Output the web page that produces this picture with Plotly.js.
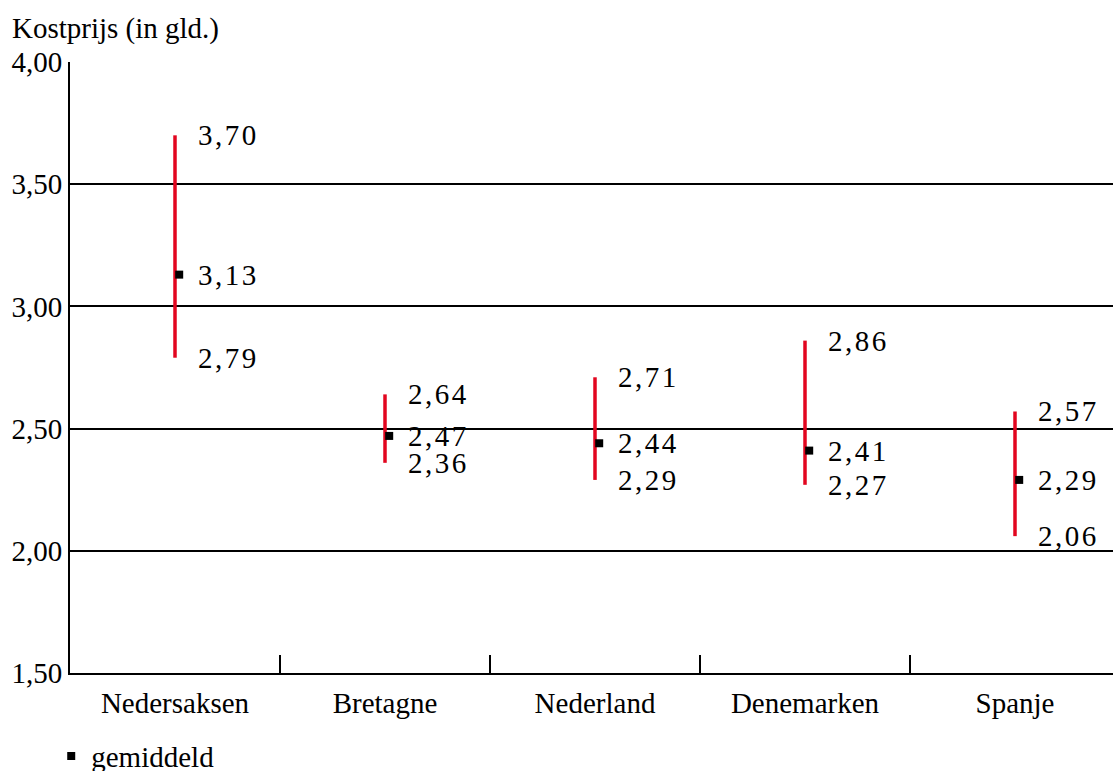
<!DOCTYPE html>
<html>
<head>
<meta charset="utf-8">
<script src="https://cdn.plot.ly/plotly-3.0.1.min.js"></script>
<style>
  html, body { margin: 0; padding: 0; background: #fff; }
  #chart { width: 1113px; height: 771px; }
  .annotation-text { letter-spacing: 2.5px; }
</style>
</head>
<body>
<div id="chart"></div>
<script>
// ---- data ----
const categories = ['Nedersaksen', 'Bretagne', 'Nederland', 'Denemarken', 'Spanje'];
const maxValues  = [3.70, 2.64, 2.71, 2.86, 2.57];
const meanValues = [3.13, 2.47, 2.44, 2.41, 2.29];
const minValues  = [2.79, 2.36, 2.29, 2.27, 2.06];
const yTickValues = [1.5, 2.0, 2.5, 3.0, 3.5, 4.0];
const yTitle = 'Kostprijs (in gld.)';
const meanName = 'gemiddeld';

// ---- build traces ----
const FONT = "'Liberation Serif', 'Times New Roman', serif";
const FS = 29;
const RED = '#e2061f';
const idx = categories.map((_, i) => i);
const xRange = [-0.5, categories.length - 0.5 - 7 / 210];

const rangeX = [], rangeY = [];
idx.forEach(i => {
  rangeX.push(i, i, null);
  rangeY.push(minValues[i], maxValues[i], null);
});

const rangeTrace = {
  type: 'scatter', mode: 'lines',
  x: rangeX, y: rangeY,
  line: { color: RED, width: 3.5 },
  showlegend: false, hoverinfo: 'skip', connectgaps: false
};

const meanOffset = 0.02;
const meanTrace = {
  type: 'scatter', mode: 'markers',
  name: meanName,
  x: idx.map(i => i + meanOffset), y: meanValues,
  marker: { symbol: 'square', size: 8, color: '#000' },
  showlegend: true
};

// helper trace so that the boundary-tick axis is drawn
const boundaryTrace = {
  type: 'scatter', mode: 'markers',
  x: idx, y: idx.map(() => null),
  xaxis: 'x2', yaxis: 'y',
  showlegend: false, hoverinfo: 'skip'
};

const fmt = v => v.toFixed(2).replace('.', ',');
const annotations = [];
idx.forEach(i => {
  [maxValues[i], meanValues[i], minValues[i]].forEach(v => {
    annotations.push({
      x: i, y: v, xref: 'x', yref: 'y',
      text: fmt(v), showarrow: false,
      xanchor: 'left', yanchor: 'middle', xshift: 21,
      font: { family: FONT, size: FS, color: '#000' }
    });
  });
});

const layout = {
  width: 1113, height: 771,
  margin: { l: 70, r: 0, t: 62, b: 98, autoexpand: false },
  paper_bgcolor: '#fff', plot_bgcolor: '#fff',
  separators: ',.',
  font: { family: FONT, size: FS, color: '#000' },
  title: {
    text: yTitle, xref: 'container', yref: 'container',
    x: 12 / 1113, xanchor: 'left', y: 1 - 28 / 771, yanchor: 'middle',
    font: { family: FONT, size: FS, color: '#000' }
  },
  xaxis: {
    range: xRange,
    tickvals: idx, ticktext: categories,
    ticks: '', showgrid: false, zeroline: false,
    showline: true, linecolor: '#000', linewidth: 2,
    tickfont: { family: FONT, size: FS, color: '#000' },
    ticklabelstandoff: 3
  },
  xaxis2: {
    overlaying: 'x', anchor: 'y', side: 'bottom',
    range: xRange,
    tickvals: idx.slice(1).map(i => i - 0.5),
    ticks: 'inside', ticklen: 18, tickwidth: 1.5, tickcolor: '#000',
    showticklabels: false, showgrid: false, zeroline: false, showline: false
  },
  yaxis: {
    range: [1.5, 4.0],
    tickvals: yTickValues, tickformat: '.2f',
    ticks: '', showgrid: true, gridcolor: '#000', gridwidth: 2,
    zeroline: false, showline: true, linecolor: '#000', linewidth: 2,
    tickfont: { family: FONT, size: FS, color: '#000' }
  },
  showlegend: true,
  legend: {
    x: -0.018, xanchor: 'left', y: -0.136, yanchor: 'middle',
    orientation: 'h', bgcolor: 'rgba(0,0,0,0)',
    font: { family: FONT, size: FS, color: '#000' }
  },
  annotations: annotations
};

Plotly.newPlot('chart', [rangeTrace, meanTrace, boundaryTrace], layout, { displayModeBar: false, staticPlot: true });
</script>
</body>
</html>
